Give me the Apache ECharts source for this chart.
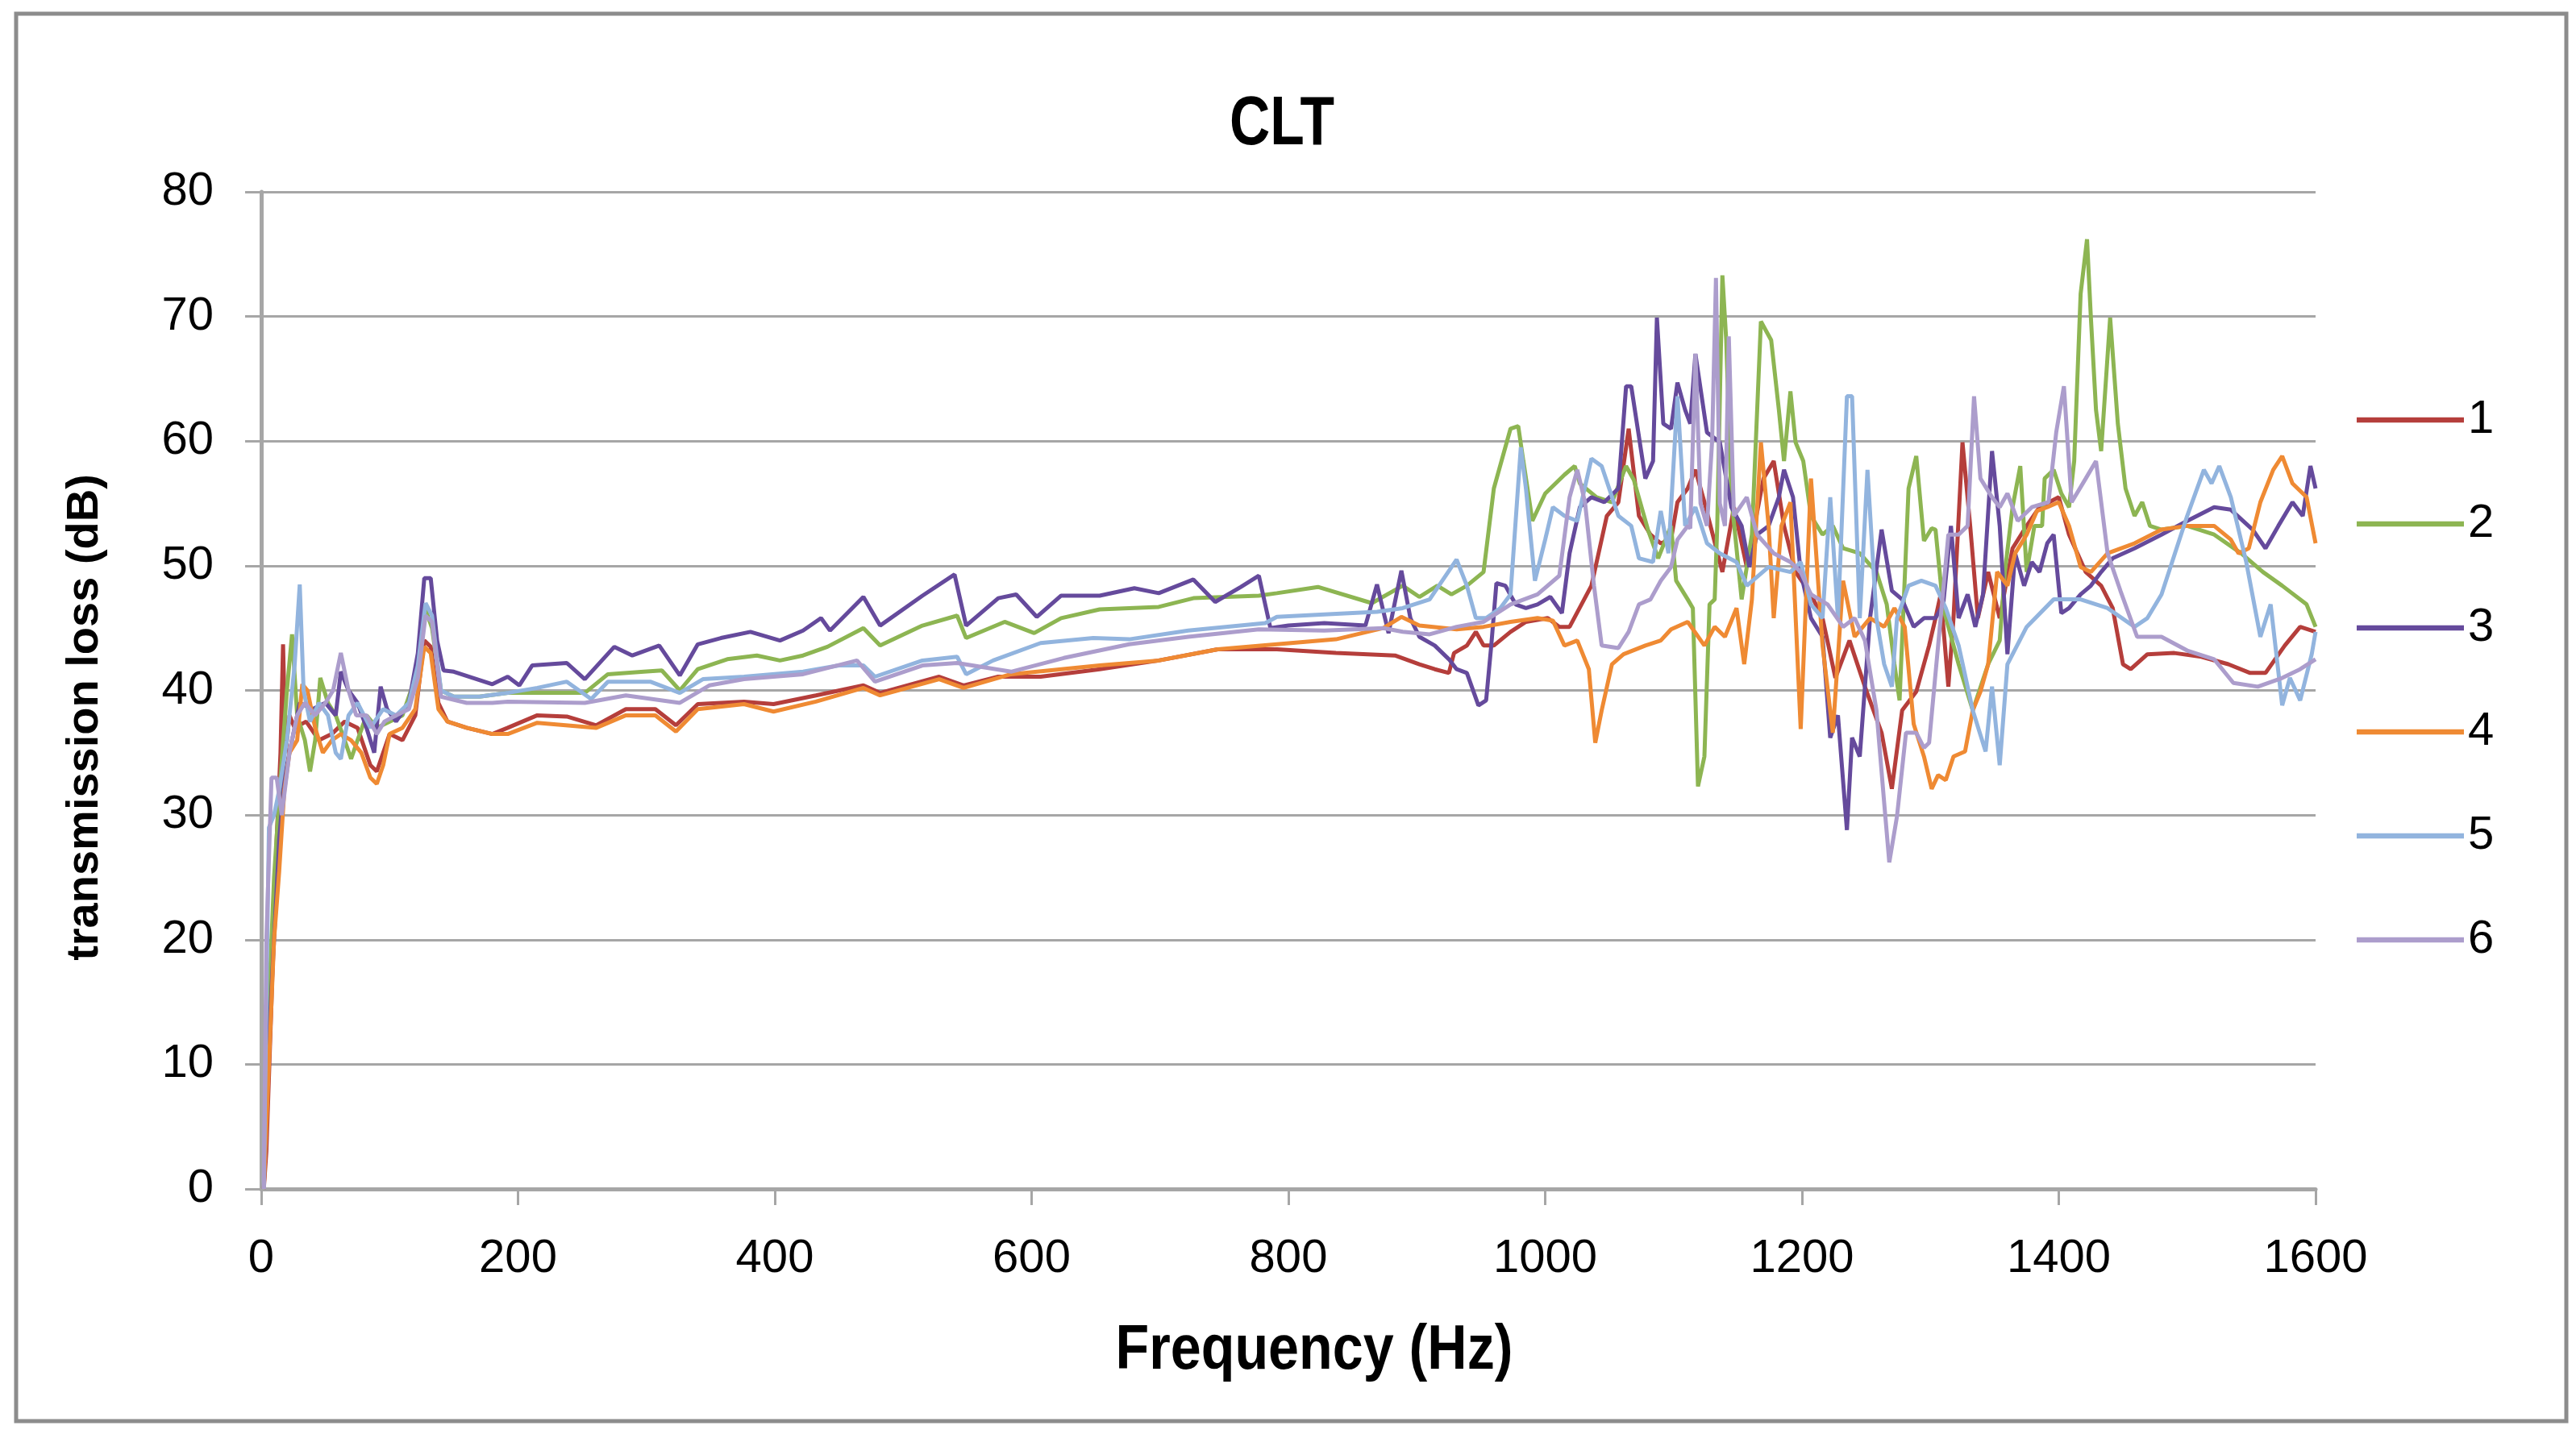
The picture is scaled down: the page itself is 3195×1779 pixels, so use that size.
<!DOCTYPE html>
<html>
<head>
<meta charset="utf-8">
<script src="https://cdn.jsdelivr.net/npm/echarts@6/dist/echarts.min.js"></script>
<style>
html,body{margin:0;padding:0;background:#fff;}
#chart{width:3195px;height:1779px;}
</style>
</head>
<body>
<div id="chart"></div>
<script>
// ---- data (frequency in Hz, transmission loss in dB) ----
const seriesNames = ['1', '2', '3', '4', '5', '6'];
const xTicks = [0, 200, 400, 600, 800, 1000, 1200, 1400, 1600];
const yTicks = [0, 10, 20, 30, 40, 50, 60, 70, 80];

const f1 = [2,4,8,12,15,17,19,22,26,35,45,55,65,75,85,90,95,100,110,120,127,132,138,145,160,180,
  192,215,238,261,284,307,323,340,376,399,432,469,482,528,547,574,607,653,699,745,791,837,883,
  902,914,925,929,939,946,952,960,973,985,1002,1011,1019,1036,1048,1057,1065,1073,1082,1090,1098,
  1103,1111,1117,1124,1138,1147,1157,1170,1178,1186,1195,1207,1216,1226,1237,1249,1262,1270,1278,1289,1299,
  1304,1308,1314,1318,1325,1331,1337,1345,1354,1364,1375,1385,1400,1408,1421,1433,1442,1450,1456,1469,1490,1511,1532,1549,1561,1576,1588,1600];
const v1 = [0,3,15,28,35,43.7,35,38,37,37.5,36,36.5,37.5,37,34,33.5,35,36.5,36,38,44,43.5,39,37.5,37,36.5,
  37,38,37.9,37.2,38.5,38.5,37.2,38.9,39.1,38.9,39.6,40.4,39.8,41.1,40.4,41.1,41.1,41.7,42.4,43.3,43.3,43,42.8,
  42.1,41.7,41.4,43,43.6,44.7,43.6,43.6,44.7,45.5,45.8,45.1,45.1,48.4,54,55.1,61,54,52.5,51.8,52.1,
  55.1,56.2,57.7,55.1,49.5,54.7,49.9,57,58.4,53.2,49.5,47.7,45.8,41,44,40.3,36.6,32.1,38.4,39.9,43.6,
  45.8,47.7,40.3,45.8,59.9,53.2,45.8,49.5,45.8,51.4,53.2,54.7,55.5,52.5,49.5,48.4,46.6,42.1,41.7,42.9,43,42.7,42.1,41.4,41.4,43.6,45.1,44.7];

const f2 = [2,6,10,15,20,24,28,34,38,42,46,52,58,65,70,75,82,90,100,110,120,128,133,140,150,170,
  192,252,270,298,312,326,340,363,386,404,422,441,469,482,515,542,549,579,602,623,653,699,726,777,791,823,865,889,
  902,916,927,939,952,960,973,979,983,990,1000,1015,1023,1027,1040,1052,1063,1069,1080,1088,1098,
  1102,1111,1115,1119,1124,1128,1132,1134,1138,1141,1145,1153,1161,1168,1176,1182,1186,1191,1195,1201,1207,1216,1224,1232,1245,1258,1266,1272,1276,1283,1289,
  1295,1301,1304,1310,1322,1333,1345,1354,1358,1364,1370,1375,1381,1387,1389,1396,1402,1408,1412,1417,1422,1425,1429,1433,1440,1446,1452,1459,1465,1471,1480,1500,1521,1542,1559,1574,1593,1600];
const v2 = [0,15,25,33,40,44.5,38,36,33.5,36,41,39,38,36,34.5,36,38,37,37.5,38,41,46.5,45,40,39.5,39.5,
  39.8,39.8,41.3,41.5,41.6,40,41.7,42.5,42.8,42.4,42.8,43.5,45,43.6,45.2,46,44.2,45.5,44.6,45.8,46.5,46.7,47.4,47.6,47.8,48.3,47,48.4,
  47.5,48.4,47.7,48.4,49.5,56.2,61,61.2,58.4,53.6,55.8,57.3,58,56.6,55.5,55.1,58,56.9,52.9,50.6,53.2,
  48.8,47.3,46.6,32.3,34.7,46.9,47.3,53.2,73.3,68.1,55.5,47.3,52.5,69.6,68.1,62.5,58.4,64,59.9,58.4,54,52.5,53.2,51.4,51,49.5,46.9,42.1,39.2,56.2,58.8,
  52,53,52.9,46.6,42.1,38.4,42.1,44,49.5,54.7,58,49.5,53.2,53.2,57,57.7,55.8,54.7,58.4,71.8,76.2,69.9,62.5,59.2,69.9,61.4,56.2,54,55.1,53.2,52.9,53.2,52.5,51,49.5,48.4,46.9,45.1];

const f3 = [2,6,10,14,18,24,30,40,50,58,62,68,75,82,88,93,98,105,115,122,127,132,137,142,150,165,180,
  192,201,211,238,252,275,289,310,326,340,358,381,404,422,436,443,469,482,515,540,549,574,588,604,623,653,680,699,726,743,763,777,786,800,828,860,869,878,888,
  895,902,914,925,931,939,948,954,958,962,969,977,985,994,1004,1013,1019,1027,1036,1046,1057,1063,1067,1078,1084,1087,1092,1098,
  1103,1109,1113,1117,1126,1136,1145,1153,1159,1165,1174,1182,1186,1193,1199,1207,1216,1222,1228,1235,1239,1245,1253,1262,1270,1278,1287,1295,
  1304,1310,1316,1322,1329,1335,1341,1348,1354,1360,1366,1373,1379,1385,1391,1396,1402,1408,1417,1425,1433,1442,1459,1480,1500,1521,1534,1551,1561,1571,1582,1590,1596,1600];
const v3 = [0,12,20,28,33,36,39,38.5,39,38,41.5,40,39,37,35,40.3,38.5,37.5,39,43,49,49,44,41.6,41.5,41,40.5,
  41.1,40.4,42,42.2,40.9,43.5,42.8,43.6,41.2,43.7,44.2,44.7,44,44.8,45.8,44.8,47.5,45.2,47.6,49.3,45.2,47.4,47.7,45.9,47.6,47.6,48.2,47.8,48.9,47.1,48.3,49.2,45,45.2,45.4,45.2,48.5,44.6,49.6,
  45.8,44.3,43.6,42.5,41.7,41.4,38.8,39.2,43.6,48.6,48.4,46.9,46.6,46.9,47.5,46.2,51,54.7,55.5,55.1,56.2,64.4,64.4,57,58.4,69.9,61.4,61,
  64.7,62.5,61.4,67,60.7,59.9,54.7,53.2,49.9,52.5,53.2,55.5,57.7,55.5,49.5,45.8,44.3,36.2,38,28.8,36.2,34.7,45.8,52.9,48,47.3,45.1,45.8,
  45.8,46.9,53.2,45.8,47.7,45.1,47.7,59.2,53.2,42.9,51,48.4,50.3,49.5,51.8,52.5,46.2,46.6,47.7,48.4,49.5,50.6,51.4,52.5,53.6,54.7,54.5,52.9,51.4,53.2,55.1,54,58,56.2];

const f4 = [2,6,10,14,18,22,28,32,36,42,48,55,62,70,78,85,90,95,100,110,120,127,132,138,145,160,180,
  192,215,261,284,307,323,340,376,399,432,469,482,528,547,584,653,699,745,791,837,874,888,
  902,931,952,973,994,1006,1015,1025,1034,1039,1044,1052,1061,1078,1090,
  1098,1111,1124,1132,1140,1149,1155,1161,1168,1174,1178,1184,1191,1199,1207,1216,1224,1232,1241,1253,1264,1272,1280,1287,1295,1301,
  1306,1312,1318,1327,1333,1339,1345,1352,1360,1366,1375,1383,1391,1400,1408,1417,1425,1438,1459,1480,1500,1521,1534,1540,1548,1557,1567,1574,1582,1593,1600];
const v4 = [0,10,20,25.5,32,35,36,40.5,40,37,35,36,36.5,36,35,33,32.5,34,36.5,37,38.5,43.5,43,38.5,37.5,37,36.5,
  36.5,37.4,37,38,38,36.7,38.5,38.9,38.3,39.1,40.2,39.6,40.9,40.2,41.3,42,42.4,43.3,43.7,44.1,45,45.9,
  45.2,44.9,45.1,45.5,45.8,45.6,43.6,44,41.7,35.8,38.4,42.1,42.9,43.6,44,
  44.9,45.5,43.6,45.1,44.3,46.6,42.1,47.3,59.9,53.2,45.8,53.2,55.1,36.9,57,43.6,36.6,48.8,44.3,45.8,45.1,46.6,45.1,37.3,34.7,32.1,
  33.2,32.8,34.7,35.1,38.4,39.9,42.1,49.5,48.4,51,52.5,54.4,54.7,55.1,53.2,49.9,49.5,51,51.8,52.9,53.2,53.2,52.1,51,51.4,55.1,57.7,58.8,56.6,55.5,51.8];

const f5 = [2,4,6,10,14,20,26,30,33,38,45,52,58,62,68,75,85,95,105,115,122,128,133,140,150,170,
  192,215,238,257,270,303,326,344,376,422,450,469,478,515,542,549,570,607,648,676,722,782,791,828,869,
  889,910,931,939,946,954,965,973,981,985,992,1000,1006,1015,1025,1036,1044,1057,1067,1073,1084,1090,1096,
  1103,1109,1117,1126,1136,1149,1157,1174,1191,1199,1207,1216,1222,1228,1235,1239,1245,1251,1258,1264,1270,1274,1283,1293,
  1304,1312,1322,1333,1343,1348,1354,1360,1375,1396,1417,1438,1459,1469,1480,1500,1513,1519,1525,1534,1546,1557,1565,1574,1580,1588,1597,1600];
const v5 = [0,15,29,30,32,36,42,48.5,40,37.5,39,38,35,34.5,38,39,37,38.5,38,39,42,47,46,40,39.5,39.5,
  39.8,40.2,40.7,39.3,40.7,40.7,39.8,40.9,41.1,41.5,42,42,41.1,42.4,42.7,41.3,42.4,43.8,44.2,44.1,44.8,45.4,45.9,46.1,46.3,
  46.6,47.3,50.5,48.4,45.8,45.8,46.6,47.7,59.5,56.2,48.8,52.1,54.7,54,53.6,58.6,58,54,53.2,50.6,50.3,54.4,51,
  63.6,53.2,54.7,51.8,51,50.3,48.4,49.9,49.5,50.3,46.9,45.8,55.5,45.8,63.6,63.6,45.8,57.7,45.8,42.1,40.3,45.8,48.4,48.8,
  48.4,46.6,43.6,38.4,35.1,40.3,34,42.1,45.1,47.3,47.3,46.6,45.1,45.8,47.7,54,57.7,56.6,58,55.5,50.3,44.3,46.9,38.8,41,39.2,42.9,44.7];

const f6 = [2,4,8,12,16,22,28,34,42,50,56,62,68,74,82,90,96,105,115,122,128,133,140,160,180,
  192,252,284,326,349,376,422,464,478,515,542,584,625,676,722,777,828,874,
  889,910,931,952,973,994,1011,1019,1025,1031,1038,1044,1057,1065,1073,1082,1090,1098,
  1103,1111,1113,1117,1121,1126,1130,1133,1136,1140,1143,1147,1157,1165,1178,1191,1199,1207,1220,1232,1241,1249,1258,1264,1268,1274,1281,1289,1295,
  1299,1308,1314,1322,1329,1334,1339,1348,1354,1360,1368,1379,1392,1398,1404,1410,1421,1429,1438,1448,1461,1480,1500,1521,1536,1555,1574,1588,1600];
const v6 = [0,20,33,33,30,35,38,39,38,39,40,43,40,38,38,36.5,37.5,38,38.5,41,46,45.5,39.5,39,39,
  39.1,39,39.6,39,40.4,40.9,41.3,42.4,40.7,42,42.2,41.5,42.6,43.7,44.3,44.9,44.8,45,
  44.7,44.5,45.1,45.5,46.9,47.7,49.2,55.5,57.7,55.1,48.4,43.6,43.4,44.7,46.9,47.3,48.8,49.9,
  52.1,53.2,53,67,55,53.2,60,73.1,55,53.2,68.4,54,55.5,52.5,51,50.3,49.5,47.7,46.9,45.1,45.8,44,38.4,31,26.2,29.9,36.6,36.6,35.4,
  35.8,45.8,52.5,52.5,53.2,63.6,57,55.5,54.7,55.8,53.6,54.7,55.1,60.7,64.4,55.1,57,58.4,51,48,44.3,44.3,43.2,42.5,40.6,40.3,41,41.7,42.5];

const freqs = [f1, f2, f3, f4, f5, f6];
const losses = [v1, v2, v3, v4, v5, v6];
const colors = ['#B53E3B', '#8DB552', '#654A9C', '#EF8A33', '#92B4DE', '#AC9DCC'];

// ---- chart ----
const chart = echarts.init(document.getElementById('chart'), null, {renderer: 'canvas'});
const gridColor = '#A6A6A6';
const fontNum = "'Liberation Sans', Arial, sans-serif";

const series = seriesNames.map((name, k) => ({
  name: name,
  type: 'line',
  data: freqs[k].map((x, i) => [x, losses[k][i]]),
  showSymbol: false,
  symbol: 'none',
  smooth: false,
  lineStyle: {color: colors[k], width: 5},
  itemStyle: {color: colors[k]},
  animation: false
}));

chart.setOption({
  animation: false,
  backgroundColor: '#ffffff',
  grid: {left: 324, top: 238, width: 2548, height: 1237, containLabel: false},
  legend: {
    orient: 'vertical',
    left: 2918, top: 487,
    itemWidth: 133, itemHeight: 40, itemGap: 71,
    icon: 'path://M0,17.5 L100,17.5 L100,22.5 L0,22.5 Z',
    textStyle: {fontFamily: fontNum, fontSize: 58, color: '#000', padding: [0, 0, 0, 0]},
    data: seriesNames,
    selectedMode: false
  },
  xAxis: {
    type: 'value', min: 0, max: 1600, interval: 200,
    axisLine: {show: true, lineStyle: {color: gridColor, width: 5}},
    axisTick: {show: true, inside: false, length: 20, lineStyle: {color: gridColor, width: 3}},
    axisLabel: {fontFamily: fontNum, fontSize: 58, color: '#000', margin: 58,
      formatter: v => xTicks.includes(v) ? String(v) : ''},
    splitLine: {show: false}
  },
  yAxis: {
    type: 'value', min: 0, max: 80, interval: 10,
    axisLine: {show: true, lineStyle: {color: gridColor, width: 5}},
    axisTick: {show: true, inside: false, length: 20, lineStyle: {color: gridColor, width: 3}},
    axisLabel: {fontFamily: fontNum, fontSize: 58, color: '#000', margin: 59,
      formatter: v => yTicks.includes(v) ? String(v) : ''},
    splitLine: {show: true, lineStyle: {color: gridColor, width: 3}}
  },
  graphic: [
    {
      type: 'rect', silent: true, z: -1,
      shape: {x: 20, y: 17, width: 3163, height: 1746},
      style: {fill: 'none', stroke: '#8C8C8C', lineWidth: 5}
    },
    {
      type: 'text', silent: true, x: 1590, y: 155, scaleX: 0.81,
      style: {text: 'CLT', fontFamily: fontNum, fontWeight: 'bold', fontSize: 86, fill: '#000',
        align: 'center', verticalAlign: 'middle'}
    },
    {
      type: 'text', silent: true, x: 1630, y: 1676, scaleX: 0.875,
      style: {text: 'Frequency (Hz)', fontFamily: fontNum, fontWeight: 'bold', fontSize: 78, fill: '#000',
        align: 'center', verticalAlign: 'middle'}
    },
    {
      type: 'text', silent: true, x: 106, y: 890, rotation: Math.PI / 2,
      style: {text: 'transmission loss (dB)', fontFamily: fontNum, fontWeight: 'bold', fontSize: 56, fill: '#000',
        align: 'center', verticalAlign: 'middle'}
    }
  ],
  series: series
});
</script>
</body>
</html>
